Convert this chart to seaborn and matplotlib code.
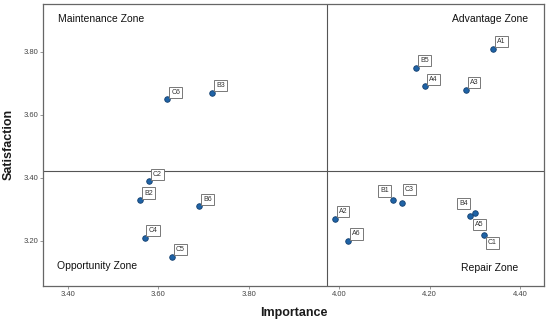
import pandas as pd
import seaborn as sns
import matplotlib.pyplot as plt

# item codes with importance / satisfaction means
items = ['A1', 'A2', 'A3', 'A4', 'A5', 'A6',
         'B1', 'B2', 'B3', 'B4', 'B5', 'B6',
         'C1', 'C2', 'C3', 'C4', 'C5', 'C6']
importance = [4.34, 3.99, 4.28, 4.19, 4.30, 4.02,
              4.12, 3.56, 3.72, 4.29, 4.17, 3.69,
              4.32, 3.58, 4.14, 3.57, 3.63, 3.62]
satisfaction = [3.81, 3.27, 3.68, 3.69, 3.29, 3.20,
                3.33, 3.33, 3.67, 3.28, 3.75, 3.31,
                3.22, 3.39, 3.32, 3.21, 3.15, 3.65]
mean_importance = 3.974
mean_satisfaction = 3.422

df = pd.DataFrame({'Item': items, 'Importance': importance,
                   'Satisfaction': satisfaction})

# label offsets (points) - most sit up/right of the marker
offsets = {k: (6, 5) for k in items}
offsets.update({'B1': (-6.5, 6.5), 'C3': (5, 10), 'B4': (-5, 8.5),
                'A5': (3.5, -8.5), 'C1': (6, -6)})

sns.set_style('white')
plt.rcParams['font.family'] = ['Liberation Sans', 'DejaVu Sans']

fig, ax = plt.subplots(figsize=(5.5, 3.21), dpi=100)
fig.subplots_adjust(left=0.078, right=0.989, top=0.988, bottom=0.109)

sns.scatterplot(data=df, x='Importance', y='Satisfaction', ax=ax,
                color='#1f63a6', edgecolor='#123e6e', linewidth=0.6,
                s=16, zorder=3)

ax.axvline(mean_importance, color='#555555', lw=0.8, zorder=1)
ax.axhline(mean_satisfaction, color='#555555', lw=0.8, zorder=1)

for name, x, y in zip(items, importance, satisfaction):
    ax.annotate(name, (x, y), xytext=offsets[name], textcoords='offset points',
                ha='center', va='center', fontsize=5, color='#333333',
                bbox=dict(boxstyle='square,pad=0.3', fc='white',
                          ec='#777777', lw=0.7), zorder=4)

zone_kw = dict(transform=ax.transAxes, fontsize=7.5, color='#111111', va='center')
ax.text(0.030, 0.947, 'Maintenance Zone', ha='left', **zone_kw)
ax.text(0.968, 0.947, 'Advantage Zone', ha='right', **zone_kw)
ax.text(0.028, 0.071, 'Opportunity Zone', ha='left', **zone_kw)
ax.text(0.948, 0.064, 'Repair Zone', ha='right', **zone_kw)

ax.set_xlim(3.345, 4.453)
ax.set_ylim(3.057, 3.952)
ax.set_xticks([3.40, 3.60, 3.80, 4.00, 4.20, 4.40])
ax.set_yticks([3.20, 3.40, 3.60, 3.80])
ax.set_xticklabels([f'{v:.2f}' for v in ax.get_xticks()])
ax.set_yticklabels([f'{v:.2f}' for v in ax.get_yticks()])
ax.tick_params(labelsize=5.5, labelcolor='#444444', length=2,
               width=0.6, color='#888888', pad=1.5, bottom=True, left=True)

ax.set_xlabel('Importance', fontsize=9, fontweight='bold', color='#1a1a1a', va='center')
ax.set_ylabel('Satisfaction', fontsize=9, fontweight='bold', color='#1a1a1a', va='center')
ax.xaxis.set_label_coords(0.5, -0.096)
ax.yaxis.set_label_coords(-0.068, 0.5)

for sp in ax.spines.values():
    sp.set_color('#666666')
    sp.set_linewidth(0.9)

fig.savefig('out.png', dpi=100)
